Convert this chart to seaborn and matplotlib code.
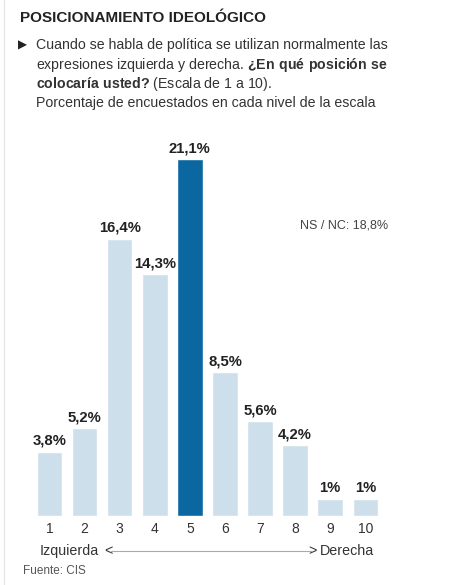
import numpy as np
import pandas as pd
import seaborn as sns
import matplotlib.pyplot as plt
from matplotlib.lines import Line2D

# Datos
niveles = ['1', '2', '3', '4', '5', '6', '7', '8', '9', '10']
porcentajes = [3.8, 5.2, 16.4, 14.3, 21.1, 8.5, 5.6, 4.2, 1.0, 1.0]
etiquetas = ['3,8%', '5,2%', '16,4%', '14,3%', '21,1%', '8,5%', '5,6%', '4,2%', '1%', '1%']
nsnc = 'NS / NC: 18,8%'

df = pd.DataFrame({'nivel': niveles, 'pct': porcentajes})

sns.set_theme(style='white')
plt.rcParams['font.family'] = ['Liberation Sans', 'DejaVu Sans']
plt.rcParams['mathtext.fontset'] = 'custom'
plt.rcParams['mathtext.rm'] = 'Liberation Sans'
plt.rcParams['mathtext.bf'] = 'Liberation Sans:bold'

LIGHT = '#cddfeb'
DARK = '#0b67a0'
colores = {n: (DARK if n == '5' else LIGHT) for n in niveles}

fig = plt.figure(figsize=(4.6, 5.85), dpi=100)
fig.patch.set_facecolor('white')

# ejes de barras
ax = fig.add_axes([28.4 / 460, 69 / 585, 358 / 460, 371.8 / 585])
sns.barplot(data=df, x='nivel', y='pct', hue='nivel', palette=colores,
            legend=False, width=0.73, saturation=1, ax=ax)
ax.set_xlim(-0.6, 9.6)
ax.set_ylim(0, 22)
ax.set_xlabel('')
ax.set_ylabel('')
ax.set_yticks([])
sns.despine(ax=ax, left=True, bottom=True)
ax.tick_params(axis='x', length=0, pad=4, labelsize=10, labelcolor='#333333')
ax.patch.set_alpha(0)

# etiquetas de valor encima de cada barra
for i, (v, t) in enumerate(zip(porcentajes, etiquetas)):
    ax.annotate(t, (i, v), xytext=(0, 5), textcoords='offset points',
                ha='center', va='baseline', fontsize=10.7, fontweight='bold',
                color='#222222')

ax.text(1.004, 0.78, nsnc, transform=ax.transAxes, ha='right', va='center',
        fontsize=9, color='#444444')

# textos de cabecera
fig.text(20 / 460, 1 - 18 / 585, 'POSICIONAMIENTO IDEOLÓGICO', ha='left', va='center',
         fontsize=11, fontweight='bold', color='#222222')
fig.text(18 / 460, 1 - 45 / 585, '▶', ha='left', va='center', fontsize=8.5,
         color='#222222', family=['DejaVu Sans'])
lineas_y = [45, 65, 84, 103]
fs = 10.2
fig.text(36 / 460, 1 - lineas_y[0] / 585,
         'Cuando se habla de política se utilizan normalmente las',
         ha='left', va='center', fontsize=fs, color='#333333')
fig.text(36 / 460, 1 - lineas_y[1] / 585,
         r'expresiones izquierda y derecha. $\bf{¿En\ qué\ posición\ se}$',
         ha='left', va='center', fontsize=fs, color='#333333')
fig.text(36 / 460, 1 - lineas_y[2] / 585,
         r'$\bf{colocaría\ usted?}$ (Escala de 1 a 10).',
         ha='left', va='center', fontsize=fs, color='#333333')
fig.text(36 / 460, 1 - lineas_y[3] / 585,
         'Porcentaje de encuestados en cada nivel de la escala',
         ha='left', va='center', fontsize=fs, color='#333333')

# eje izquierda / derecha
y_eje = 1 - 551 / 585
fig.text(40 / 460, y_eje, 'Izquierda', ha='left', va='center', fontsize=10.3, color='#333333')
fig.text(104 / 460, y_eje, '<', ha='left', va='center', fontsize=10.3, color='#333333')
fig.text(317 / 460, y_eje, '>', ha='right', va='center', fontsize=10.3, color='#333333')
fig.text(320 / 460, y_eje, 'Derecha', ha='left', va='center', fontsize=10.3, color='#333333')
fig.add_artist(Line2D([111 / 460, 311 / 460], [y_eje, y_eje], color='#aaaaaa', lw=0.8))

fig.text(23 / 460, 1 - 571 / 585, 'Fuente: CIS', ha='left', va='center',
         fontsize=8.5, color='#555555')

# borde izquierdo tenue
fig.add_artist(Line2D([4 / 460, 4 / 460], [0, 1], color='#e4e4e4', lw=0.8))

fig.savefig('out.png', dpi=100, facecolor='white')
